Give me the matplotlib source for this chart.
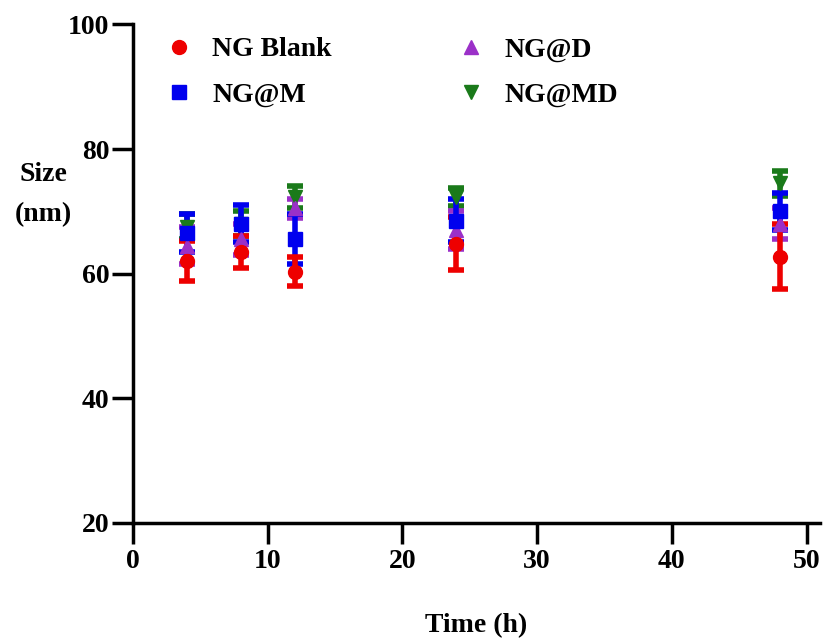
import matplotlib.pyplot as plt

plt.rcParams['font.family'] = ['Liberation Serif', 'DejaVu Serif']
plt.rcParams['font.weight'] = 'bold'

# time points (h)
time = [4, 8, 12, 24, 48]

# size (nm) and error bars
blank = [62.0, 63.5, 60.3, 64.8, 62.7]
blank_err = [3.2, 2.6, 2.3, 4.3, 5.2]
ng_m = [66.5, 68.0, 65.5, 68.5, 70.0]
ng_m_err = [3.0, 3.0, 4.0, 3.5, 3.0]
ng_d = [64.5, 65.5, 70.5, 67.0, 68.0]
ng_d_err = [3.0, 2.5, 1.5, 3.0, 2.5]
ng_md = [67.5, 68.0, 72.3, 72.3, 74.5]
ng_md_err = [2.0, 2.0, 1.8, 1.5, 2.0]

fig = plt.figure(figsize=(8.36, 6.43), dpi=100)
ax = fig.add_axes([0.159, 0.187, 0.822, 0.775])

ekw = dict(elinewidth=4, capsize=6, capthick=4, markersize=10, linestyle='none')
ax.errorbar(time, ng_md, yerr=ng_md_err, fmt='v', color='#1a7a1a', label='NG@MD', **ekw)
ax.errorbar(time, ng_d, yerr=ng_d_err, fmt='^', color='#9b30c8', label='NG@D', **ekw)
ax.errorbar(time, ng_m, yerr=ng_m_err, fmt='s', color='#0000ee', label='NG@M', **ekw)
ax.errorbar(time, blank, yerr=blank_err, fmt='o', color='#ee0000', label='NG Blank', **ekw)

ax.set_xlim(0, 51)
ax.set_ylim(20, 100)
ax.set_xticks([0, 10, 20, 30, 40, 50])
ax.set_yticks([20, 40, 60, 80, 100])
ax.tick_params(direction='out', length=15, width=2.5, labelsize=20)
ax.tick_params(axis='y', pad=2)
ax.tick_params(axis='x', pad=4)
for lab in ax.get_xticklabels() + ax.get_yticklabels():
    lab.set_fontweight('bold')
ax.spines['top'].set_visible(False)
ax.spines['right'].set_visible(False)
ax.spines['left'].set_linewidth(2.5)
ax.spines['bottom'].set_linewidth(2.5)

ax.set_xlabel('Time (h)', fontsize=20, fontweight='bold', labelpad=28)
fig.text(0.052, 0.697, 'Size\n(nm)', fontsize=20, fontweight='bold',
         ha='center', va='center', linespacing=1.8)

h, l = ax.get_legend_handles_labels()
order = [3, 2, 1, 0]
handles = [h[i][0] for i in order]
labels = [l[i] for i in order]
ax.legend(handles, labels, ncol=2, loc='upper left', bbox_to_anchor=(-0.01, 1.025),
          frameon=False, prop={'weight': 'bold', 'size': 20},
          columnspacing=4.0, handletextpad=0.2, labelspacing=0.7)

plt.savefig('out.png', dpi=100)
